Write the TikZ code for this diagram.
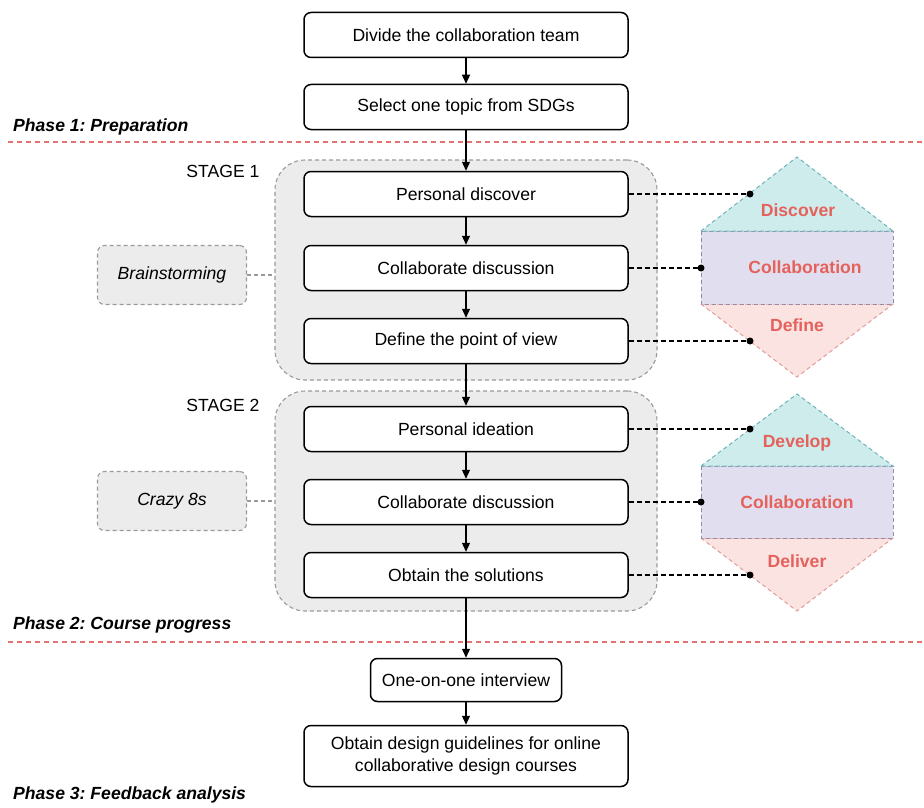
\documentclass[tikz,border=0pt]{standalone}
\usepackage{fontspec}
\setmainfont{Liberation Sans}
\usetikzlibrary{arrows.meta}
\frenchspacing
\definecolor{redline}{HTML}{E57373}
\definecolor{grpfill}{HTML}{ECECEC}
\definecolor{grpline}{HTML}{9A9A9A}
\definecolor{cyanfill}{HTML}{CFECED}
\definecolor{cyanline}{HTML}{6FB5B6}
\definecolor{lavfill}{HTML}{E1DFEF}
\definecolor{lavline}{HTML}{8F8BA8}
\definecolor{pinkfill}{HTML}{FAE3E1}
\definecolor{pinkline}{HTML}{E39C98}
\definecolor{labred}{HTML}{E5625C}
\newcommand{\fsz}{\fontsize{17.6}{21.5}\selectfont}
\tikzset{
  stepbox/.style={draw=black, line width=1.5pt, rounded corners=7pt, fill=white,
    minimum width=324pt, minimum height=45pt, inner sep=0pt, align=center, font=\fsz},
  grpbox/.style={draw=grpline, dash pattern=on 4pt off 3pt, line width=1.1pt,
    fill=grpfill, rounded corners=30pt, minimum width=382pt, minimum height=220pt, inner sep=0pt},
  sidebox/.style={draw=grpline, dash pattern=on 4pt off 3pt, line width=1.1pt,
    fill=grpfill, rounded corners=7pt, minimum width=149pt, minimum height=59pt,
    inner sep=0pt, font=\fsz\itshape},
  flow/.style={-{Triangle[length=9pt,width=8pt]}, line width=1.2pt, black},
  link/.style={black, line width=1.2pt, dash pattern=on 5pt off 3pt},
  glink/.style={grpline, line width=1.1pt, dash pattern=on 4pt off 3pt},
  phaseline/.style={redline, line width=1.1pt, dash pattern=on 5pt off 4pt},
  phaselabel/.style={anchor=west, inner sep=0pt, font=\fsz\bfseries\itshape},
  hexlabel/.style={inner sep=0pt, text=labred, font=\fsz\bfseries},
  stagelabel/.style={inner sep=0pt, font=\fsz},
  dot/.style={circle, fill=black, inner sep=0pt, minimum size=7pt},
}
\begin{document}
\begin{tikzpicture}[x=1pt, y=-1pt]
\useasboundingbox[fill=white] (0,0) rectangle (924,808);

% phase lines
\draw[phaseline] (8,142) -- (924,142);
\draw[phaseline] (8,642) -- (924,642);
\node[phaselabel] (ph1) at (13,127) {Phase 1: Preparation};
\node[phaselabel] (ph2) at (13,625) {Phase 2: Course progress};
\node[phaselabel] (ph3) at (13,795) {Phase 3: Feedback analysis};

% groups
\node[grpbox] (g1) at (466,270) {};
\node[grpbox] (g2) at (466,501) {};
\node[stagelabel] (s1) at (223,171) {STAGE 1};
\node[stagelabel] (s2) at (223,405) {STAGE 2};

% side boxes
\node[sidebox] (bs) at (172,275) {Brainstorming};
\node[sidebox] (c8) at (172,501) {Crazy 8s};
\draw[glink] (bs.east) -- (bs.east -| g1.west);
\draw[glink] (c8.east) -- (c8.east -| g2.west);

% step boxes
\node[stepbox] (div) at (466,35) {Divide the collaboration team};
\node[stepbox] (sel) at (466,107) {Select one topic from SDGs};
\node[stepbox] (pd) at (466,194) {Personal discover};
\node[stepbox] (cd1) at (466,268) {Collaborate discussion};
\node[stepbox] (pov) at (466,341) {Define the point of view};
\node[stepbox] (pi) at (466,429) {Personal ideation};
\node[stepbox] (cd2) at (466,502) {Collaborate discussion};
\node[stepbox] (sol) at (466,575) {Obtain the solutions};
\node[stepbox, minimum width=191pt, minimum height=43pt] (int) at (466,680) {One-on-one interview};
\node[stepbox, minimum height=61pt] (gl) at (466,756) {Obtain design guidelines for online\\[1pt]collaborative design courses};

% flow arrows
\draw[flow] (div) -- (sel);
\draw[flow] (sel) -- (pd);
\draw[flow] (pd) -- (cd1);
\draw[flow] (cd1) -- (pov);
\draw[flow] (pov) -- (pi);
\draw[flow] (pi) -- (cd2);
\draw[flow] (cd2) -- (sol);
\draw[flow] (sol) -- (int);
\draw[flow] (int) -- (gl);

% hexagon 1
\filldraw[fill=pinkfill, draw=pinkline, line width=1pt, dash pattern=on 4pt off 3pt]
  (701,304) -- (797,377) -- (893,304) -- cycle;
\filldraw[fill=lavfill, draw=lavline, line width=1pt, dash pattern=on 4pt off 3pt]
  (701,231) rectangle (893,304);
\filldraw[fill=cyanfill, draw=cyanline, line width=1pt, dash pattern=on 4pt off 3pt]
  (701,231) -- (797,157) -- (893,231) -- cycle;
\node[hexlabel] (h1a) at (798,210) {Discover};
\node[hexlabel] (h1b) at (805,267) {Collaboration};
\node[hexlabel] (h1c) at (797,325) {Define};

% hexagon 2
\filldraw[fill=pinkfill, draw=pinkline, line width=1pt, dash pattern=on 4pt off 3pt]
  (701,538) -- (797,611) -- (893,538) -- cycle;
\filldraw[fill=lavfill, draw=lavline, line width=1pt, dash pattern=on 4pt off 3pt]
  (701,466) rectangle (893,538);
\filldraw[fill=cyanfill, draw=cyanline, line width=1pt, dash pattern=on 4pt off 3pt]
  (701,466) -- (797,394) -- (893,466) -- cycle;
\node[hexlabel] (h2a) at (797,443) {Develop};
\node[hexlabel] (h2b) at (797,502) {Collaboration};
\node[hexlabel] (h2c) at (797,561) {Deliver};

% dots and links
\node[dot] (d1) at (750,194) {};
\node[dot] (d2) at (701,268) {};
\node[dot] (d3) at (750,341) {};
\node[dot] (d4) at (750,429) {};
\node[dot] (d5) at (701,502) {};
\node[dot] (d6) at (750,575) {};
\draw[link] (pd.east) -- (d1.center);
\draw[link] (cd1.east) -- (d2.center);
\draw[link] (pov.east) -- (d3.center);
\draw[link] (pi.east) -- (d4.center);
\draw[link] (cd2.east) -- (d5.center);
\draw[link] (sol.east) -- (d6.center);
\end{tikzpicture}
\end{document}
